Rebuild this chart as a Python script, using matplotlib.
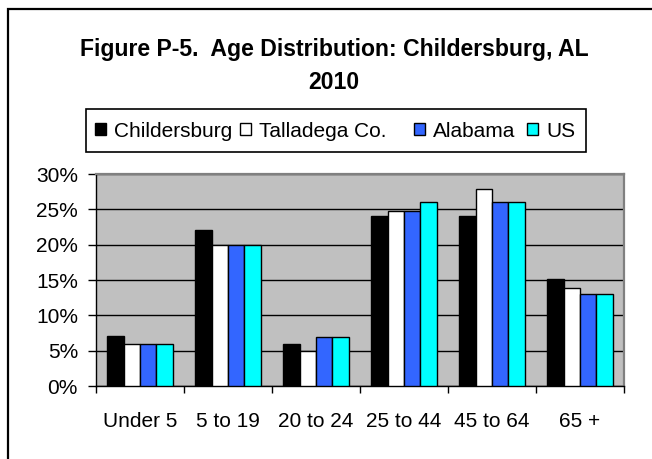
import matplotlib

matplotlib.use("Agg")
import matplotlib.pyplot as plt
import numpy as np
from matplotlib.patches import Rectangle


CATEGORIES = ["Under 5", "5 to 19", "20 to 24", "25 to 44", "45 to 64", "65 +"]
SERIES = ["Childersburg", "Talladega Co.", "Alabama", "US"]
CHILDERSBURG = [7.1, 22.1, 5.9, 24.1, 24.1, 15.1]
TALLADEGA = [5.9, 20.0, 4.9, 24.8, 27.9, 13.9]
ALABAMA = [5.9, 20.0, 7.0, 24.8, 26.0, 13.0]
US = [5.9, 20.0, 7.0, 26.0, 26.0, 13.0]
Y_TICKS = [0, 5, 10, 15, 20, 25, 30]

COLORS = ["#000000", "#ffffff", "#3366ff", "#00ffff"]
# legend entry left edges in figure pixels (Excel spacing is uneven)
LEGEND_X = [95, 240, 414, 527]

W, H = 652, 459


def px(x, y):
    return x / W, 1 - y / H


def main() -> None:
    plt.rcParams["font.family"] = ["Liberation Sans", "DejaVu Sans"]
    fig = plt.figure(figsize=(W / 100, H / 100), dpi=100)

    # outer chart frame (runs off the right and bottom edges)
    frame_top = 1 - 9 / H
    fig.patches.append(
        Rectangle((8 / W, -0.5), 1.2, frame_top + 0.5, transform=fig.transFigure,
                  fill=False, edgecolor="black", linewidth=1.6)
    )

    left, top, right, bottom = 96, 174, 624, 386
    ax = fig.add_axes([left / W, 1 - bottom / H, (right - left) / W, (bottom - top) / H])
    ax.set_facecolor("#c0c0c0")

    values = [CHILDERSBURG, TALLADEGA, ALABAMA, US]
    x = np.arange(len(CATEGORIES))
    width = 0.185
    for i, (vals, color) in enumerate(zip(values, COLORS)):
        ax.bar(x + (i - 1.5) * width, vals, width, color=color,
               edgecolor="black", linewidth=1.0, zorder=3)

    ax.set_xlim(-0.5, len(CATEGORIES) - 0.5)
    ax.set_ylim(0, 30)
    ax.set_yticks(Y_TICKS)
    ax.set_yticklabels([f"{t}%" for t in Y_TICKS])
    ax.yaxis.grid(True, color="black", linewidth=1.0, zorder=0)
    ax.set_axisbelow(True)

    ax.set_xticks(np.arange(len(CATEGORIES) + 1) - 0.5)
    ax.set_xticklabels([])
    ax.set_xticks(x, minor=True)
    ax.set_xticklabels(CATEGORIES, minor=True)
    ax.tick_params(axis="x", which="major", direction="out", length=5, width=1)
    ax.tick_params(axis="x", which="minor", length=0, pad=18.5, labelsize=15)
    ax.tick_params(axis="y", direction="out", length=6, width=1, pad=7, labelsize=15)

    for side in ("top", "right"):
        ax.spines[side].set_color("#808080")
        ax.spines[side].set_linewidth(1.6)
    for side in ("left", "bottom"):
        ax.spines[side].set_color("black")
        ax.spines[side].set_linewidth(1.0)

    # title
    tx, _ = px(334, 0)
    fig.text(tx, px(0, 56)[1], "Figure P-5.  Age Distribution: Childersburg, AL",
             ha="center", va="baseline", fontsize=16.6, fontweight="bold")
    fig.text(tx, px(0, 89)[1], "2010", ha="center", va="baseline",
             fontsize=16.6, fontweight="bold")

    # legend box
    fig.patches.append(
        Rectangle(px(86, 152), (586 - 86) / W, (152 - 109) / H,
                  transform=fig.transFigure, fill=False, edgecolor="black", linewidth=1.2)
    )
    for name, color, lx in zip(SERIES, COLORS, LEGEND_X):
        fig.patches.append(
            Rectangle(px(lx, 135), 11 / W, 12 / H, transform=fig.transFigure,
                      facecolor=color, edgecolor="black", linewidth=1.0)
        )
        fig.text(px(lx + 19, 0)[0], px(0, 129.5)[1], name, ha="left", va="center_baseline",
                 fontsize=15)

    fig.savefig("out.png", dpi=100)
    plt.close(fig)


if __name__ == "__main__":
    main()
